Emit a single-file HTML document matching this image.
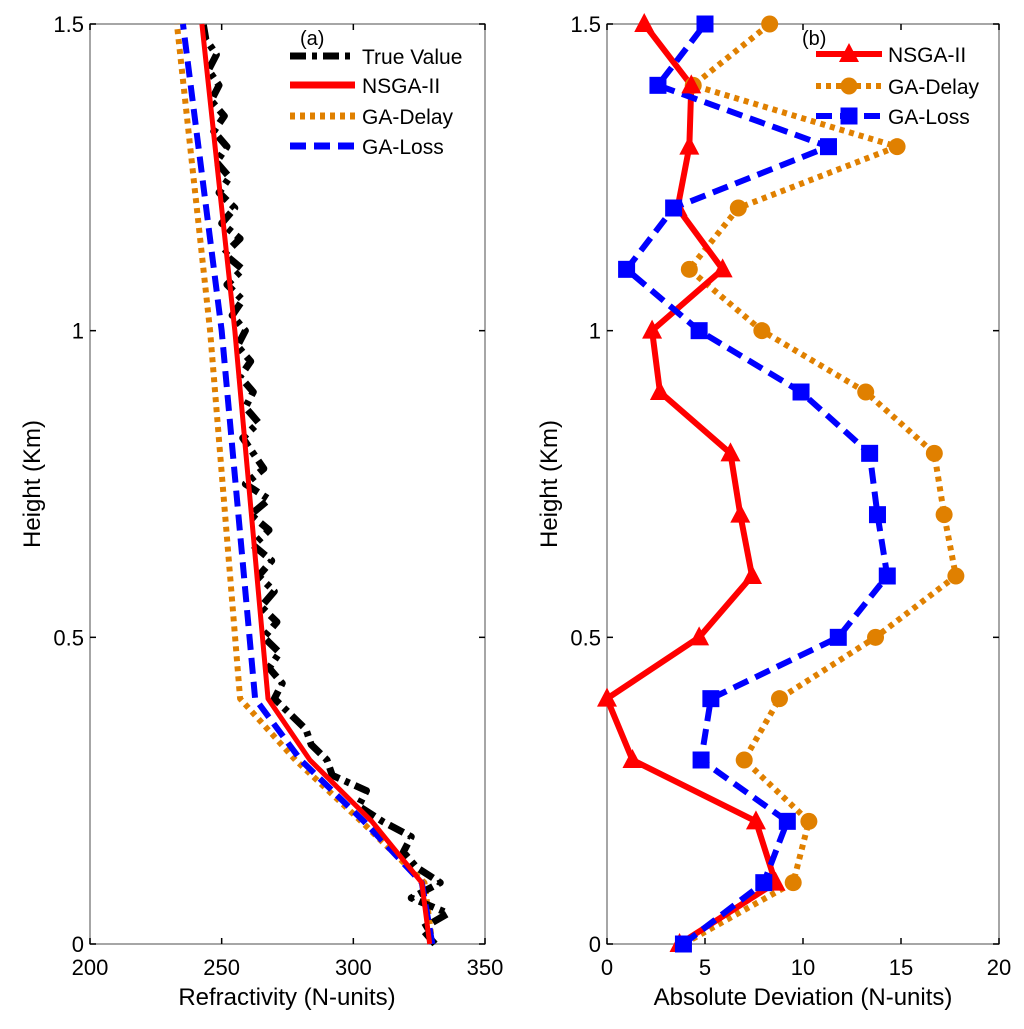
<!DOCTYPE html>
<html><head><meta charset="utf-8"><style>
body{margin:0;background:#fff}
svg text{font-family:"Liberation Sans",sans-serif;fill:#000}
</style></head><body>
<svg id="c" width="1024" height="1024" xmlns="http://www.w3.org/2000/svg"></svg>
<script>
// Panel (a) data
const trueH = [];
for (let i = 0; i <= 60; i++) trueH.push(i * 0.025);
const trueVals = [331,326,336,322,333,324,319,322,311,302,305,292,290,284,282,276,270,273,268,272,266,271,265,270,264,269,262,268,261,268,259,266,262,258,264,259,262,257,261,256,259,254,258,252,258,251,257,250,255,249,253,248,252,247,251,246,249,245,248,244,243];
const fitH = [0,0.1,0.2,0.3,0.4,1.0,1.5];
const nsgaFit = [329,326,307,283.5,267.6,255,242.5];
const delayFit = [330,327,303,278,257,245.6,233];
const lossFit = [330,326,304,280,262.7,250,235.3];
// Panel (b) data
const devH = [0,0.1,0.2,0.3,0.4,0.5,0.6,0.7,0.8,0.9,1.0,1.1,1.2,1.3,1.4,1.5];
const devNsga = [3.7,8.6,7.6,1.3,0,4.7,7.4,6.8,6.3,2.7,2.3,5.9,3.6,4.2,4.3,1.9];
const devDelay = [3.9,9.5,10.3,7.0,8.8,13.7,17.8,17.2,16.7,13.2,7.9,4.2,6.7,14.8,4.4,8.3];
const devLoss = [3.9,8.0,9.2,4.8,5.3,11.8,14.3,13.8,13.4,9.9,4.7,1.0,3.4,11.3,2.6,5.0];
const xTicksA = [200,250,300,350];
const xTicksB = [0,5,10,15,20];
const yTicks = [0,0.5,1,1.5];

const NS = "http://www.w3.org/2000/svg";
const svg = document.getElementById('c');
function mk(tag, attrs, parent) {
  const e = document.createElementNS(NS, tag);
  for (const k in attrs) e.setAttribute(k, attrs[k]);
  (parent || svg).appendChild(e);
  return e;
}
const T = 24, B = 944;
const yS = h => B - (h / 1.5) * (B - T);
function panel(L, R, x0, x1, xt, name) {
  const xS = v => L + (v - x0) / (x1 - x0) * (R - L);
  const g = mk('g', {});
  
  
  const box = mk('rect', {x: L, y: T, width: R - L, height: B - T, fill: 'none', stroke: '#888', 'stroke-width': 1.5}, g);
  
  
  xt.forEach(v => {
    const x = xS(v);
    mk('line', {x1: x, x2: x, y1: B, y2: B - 6, stroke: '#000', 'stroke-width': 1.5}, g);
    mk('line', {x1: x, x2: x, y1: T, y2: T + 6, stroke: '#000', 'stroke-width': 1.5}, g);
    const t = mk('text', {x: x, y: B + 31, 'font-size': 22, 'text-anchor': 'middle'}, g);
    t.textContent = v;
    
    
  });
  yTicks.forEach(v => {
    const y = yS(v);
    mk('line', {x1: L, x2: L + 6, y1: y, y2: y, stroke: '#000', 'stroke-width': 1.5}, g);
    mk('line', {x1: R, x2: R - 6, y1: y, y2: y, stroke: '#000', 'stroke-width': 1.5}, g);
    const t = mk('text', {x: L - 6, y: y + 8, 'font-size': 22, 'text-anchor': 'end'}, g);
    t.textContent = v;
    
    
  });
  const yt = mk('text', {x: 0, y: 0, 'font-size': 24, 'text-anchor': 'middle', transform: `translate(${L - 50},${(T + B) / 2}) rotate(-90)`}, g);
  yt.textContent = 'Height (Km)';
  
  
  return xS;
}
function poly(xs, hs, xS, style, name) {
  const pts = xs.map((v, i) => xS(v) + ',' + yS(hs[i])).join(' ');
  const p = mk('polyline', Object.assign({points: pts, fill: 'none', 'stroke-linejoin': 'round'}, style));
  
  
}
function marker(type, x, y, color) {
  let e;
  if (type === 'tri') e = mk('polygon', {points: `${x},${y - 11} ${x - 10},${y + 8} ${x + 10},${y + 8}`, fill: color});
  else if (type === 'circ') e = mk('circle', {cx: x, cy: y, r: 8.5, fill: color});
  else e = mk('rect', {x: x - 8.5, y: y - 8.5, width: 17, height: 17, fill: color});
  
  
}
function legendText(x, y, s) {
  const t = mk('text', {x: x, y: y + 8, 'font-size': 21});
  t.textContent = s;
  
  
}
// Panel a
const xa = panel(90, 485, 200, 350, xTicksA, 'panel-a');
poly(delayFit, fitH, xa, {stroke: '#e08000', 'stroke-width': 6, 'stroke-dasharray': '5 5'}, 'ga-delay-line');
poly(trueVals, trueH, xa, {stroke: '#000', 'stroke-width': 7, 'stroke-dasharray': '16 6 5 6'}, 'true-value-line');
poly(lossFit, fitH, xa, {stroke: '#0000ff', 'stroke-width': 6, 'stroke-dasharray': '16 8'}, 'ga-loss-line');
poly(nsgaFit, fitH, xa, {stroke: '#ff0000', 'stroke-width': 5}, 'nsga-ii-line');
let t = mk('text', {x: 300, y: 45, 'font-size': 20});
t.textContent = '(a)';


[[56, {stroke: '#000', 'stroke-dasharray': '16 6 5 6'}, 'True Value'],
 [85, {stroke: '#ff0000'}, 'NSGA-II'],
 [116, {stroke: '#e08000', 'stroke-dasharray': '5 5'}, 'GA-Delay'],
 [146, {stroke: '#0000ff', 'stroke-dasharray': '16 8'}, 'GA-Loss']].forEach(r => {
  const l = mk('line', Object.assign({x1: 290, x2: 355, y1: r[0], y2: r[0], 'stroke-width': 7}, r[1]));
  
  
  legendText(362, r[0], r[2]);
});
let xt = mk('text', {x: 287, y: 1005, 'font-size': 24, 'text-anchor': 'middle'});
xt.textContent = 'Refractivity (N-units)';


// Panel b
const xb = panel(607, 999, 0, 20, xTicksB, 'panel-b');
poly(devDelay, devH, xb, {stroke: '#e08000', 'stroke-width': 6, 'stroke-dasharray': '5 5'}, 'ga-delay-dev-line');
poly(devNsga, devH, xb, {stroke: '#ff0000', 'stroke-width': 6}, 'nsga-ii-dev-line');
poly(devLoss, devH, xb, {stroke: '#0000ff', 'stroke-width': 6, 'stroke-dasharray': '16 8'}, 'ga-loss-dev-line');
devDelay.forEach((v, i) => marker('circ', xb(v), yS(devH[i]), '#e08000'));
devNsga.forEach((v, i) => marker('tri', xb(v), yS(devH[i]), '#ff0000'));
devLoss.forEach((v, i) => marker('sq', xb(v), yS(devH[i]), '#0000ff'));
t = mk('text', {x: 802, y: 45, 'font-size': 20});
t.textContent = '(b)';


[[54, {stroke: '#ff0000'}, 'NSGA-II', 'tri', '#ff0000'],
 [86, {stroke: '#e08000', 'stroke-dasharray': '5 5'}, 'GA-Delay', 'circ', '#e08000'],
 [116, {stroke: '#0000ff', 'stroke-dasharray': '16 8'}, 'GA-Loss', 'sq', '#0000ff']].forEach(r => {
  const l = mk('line', Object.assign({x1: 816, x2: 882, y1: r[0], y2: r[0], 'stroke-width': 6}, r[1]));
  
  
  marker(r[3], 849, r[0], r[4]);
  legendText(888, r[0], r[2]);
});
xt = mk('text', {x: 803, y: 1005, 'font-size': 24, 'text-anchor': 'middle'});
xt.textContent = 'Absolute Deviation (N-units)';


</script>
</body></html>
